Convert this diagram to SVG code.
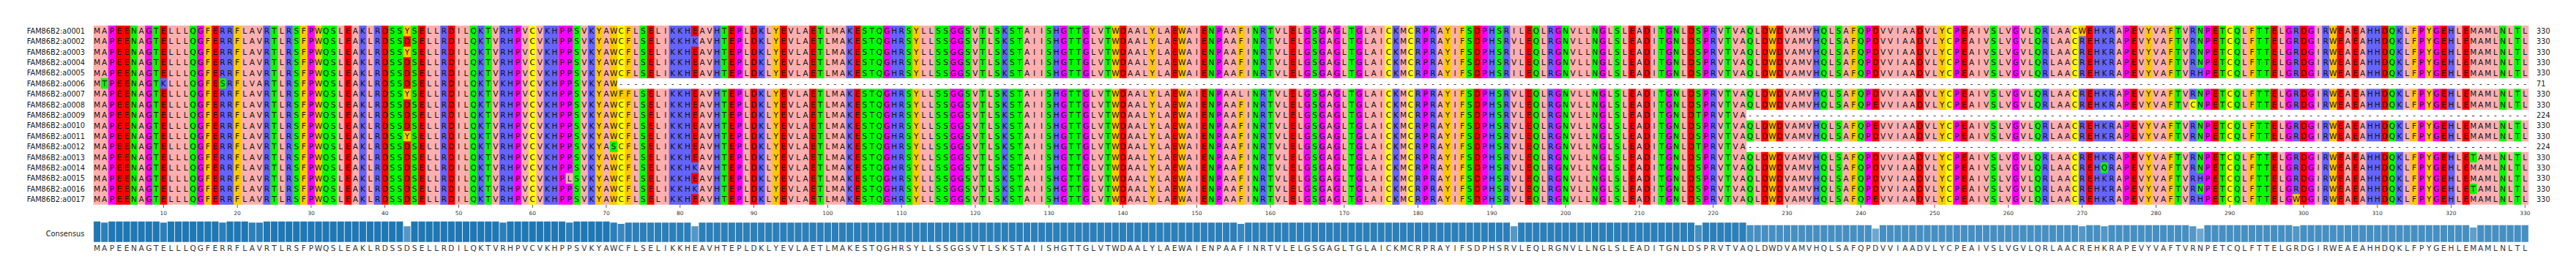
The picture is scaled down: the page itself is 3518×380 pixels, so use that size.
<svg xmlns="http://www.w3.org/2000/svg" width="3518" height="380" viewBox="0 0 3518 380">
<style>
.f{font-family:"DejaVu Sans","Liberation Sans",sans-serif}
.res{font-size:10.5px;text-anchor:middle}
.lab{font-size:9.75px;fill:#1a1a1a}
.end{text-anchor:end}
.tk{font-size:7.5px;fill:#333;text-anchor:middle}
.gap{font-size:10.5px;text-anchor:middle;fill:#222}
.col path{fill:none;stroke-width:1}
.H{stroke:#ffafaf}.A{stroke:#ffc800}.P{stroke:#6464ff}.N{stroke:#ff0000}.S{stroke:#00ff00}.G{stroke:#ff00ff}.C{stroke:#ffff00}
.bar path{fill:#1f77b4}
</style>
<defs>
<text id="seq" class="f res" x="132.6 142.7 152.8 162.9 173 183 193.1 203.2 213.3 223.3 233.4 243.5 253.6 263.7 273.7 283.8 293.9 304 314 324.1 334.2 344.3 354.4 364.4 374.5 384.6 394.7 404.8 414.8 424.9 435 445.1 455.1 465.2 475.3 485.4 495.5 505.5 515.6 525.7 535.8 545.8 555.9 566 576.1 586.2 596.2 606.3 616.4 626.5 636.5 646.6 656.7 666.8 676.9 686.9 697 707.1 717.2 727.2 737.3 747.4 757.5 767.6 777.6 787.7 797.8 807.9 817.9 828 838.1 848.2 858.3 868.3 878.4 888.5 898.6 908.7 918.7 928.8 938.9 949 959 969.1 979.2 989.3 999.4 1009.4 1019.5 1029.6 1039.7 1049.7 1059.8 1069.9 1080 1090.1 1100.1 1110.2 1120.3 1130.4 1140.4 1150.5 1160.6 1170.7 1180.8 1190.8 1200.9 1211 1221.1 1231.1 1241.2 1251.3 1261.4 1271.5 1281.5 1291.6 1301.7 1311.8 1321.8 1331.9 1342 1352.1 1362.2 1372.2 1382.3 1392.4 1402.5 1412.6 1422.6 1432.7 1442.8 1452.9 1462.9 1473 1483.1 1493.2 1503.3 1513.3 1523.4 1533.5 1543.6 1553.6 1563.7 1573.8 1583.9 1594 1604 1614.1 1624.2 1634.3 1644.3 1654.4 1664.5 1674.6 1684.7 1694.7 1704.8 1714.9 1725 1735 1745.1 1755.2 1765.3 1775.4 1785.4 1795.5 1805.6 1815.7 1825.7 1835.8 1845.9 1856 1866.1 1876.1 1886.2 1896.3 1906.4 1916.5 1926.5 1936.6 1946.7 1956.8 1966.8 1976.9 1987 1997.1 2007.2 2017.2 2027.3 2037.4 2047.5 2057.5 2067.6 2077.7 2087.8 2097.9 2107.9 2118 2128.1 2138.2 2148.2 2158.3 2168.4 2178.5 2188.6 2198.6 2208.7 2218.8 2228.9 2238.9 2249 2259.1 2269.2 2279.3 2289.3 2299.4 2309.5 2319.6 2329.6 2339.7 2349.8 2359.9 2370 2380 2390.1 2400.2 2410.3 2420.4 2430.4 2440.5 2450.6 2460.7 2470.7 2480.8 2490.9 2501 2511.1 2521.1 2531.2 2541.3 2551.4 2561.4 2571.5 2581.6 2591.7 2601.8 2611.8 2621.9 2632 2642.1 2652.1 2662.2 2672.3 2682.4 2692.5 2702.5 2712.6 2722.7 2732.8 2742.8 2752.9 2763 2773.1 2783.2 2793.2 2803.3 2813.4 2823.5 2833.5 2843.6 2853.7 2863.8 2873.9 2883.9 2894 2904.1 2914.2 2924.3 2934.3 2944.4 2954.5 2964.6 2974.6 2984.7 2994.8 3004.9 3015 3025 3035.1 3045.2 3055.3 3065.3 3075.4 3085.5 3095.6 3105.7 3115.7 3125.8 3135.9 3146 3156 3166.1 3176.2 3186.3 3196.4 3206.4 3216.5 3226.6 3236.7 3246.7 3256.8 3266.9 3277 3287.1 3297.1 3307.2 3317.3 3327.4 3337.4 3347.5 3357.6 3367.7 3377.8 3387.8 3397.9 3408 3418.1 3428.2 3438.2 3448.3">MAPEENAGTELLLQGFERRFLAVRTLRSFPWQSLEAKLRDSSDSELLRDILQKTVRHPVCVKHPPSVKYAWCFLSELIKKHEAVHTEPLDKLYEVLAETLMAKESTQGHRSYLLSSGGSVTLSKSTAIISHGTTGLVTWDAALYLAEWAIENPAAFINRTVLELGSGAGLTGLAICKMCRPRAYIFSDPHSRVLEQLRGNVLLNGLSLEADITGNLDSPRVTVAQLDWDVAMVHQLSAFQPDVVIAADVLYCPEAIVSLVGVLQRLAACREHKRAPEVYVAFTVRNPETCQLFTTELGRDGIRWEAEAHHDQKLFPYGEHLEMAMLNLTL</text>
<text id="d10" class="f gap" x="0 10.08 20.16 30.23 40.31 50.39 60.47 70.55 80.62 90.7">----------</text>
<g id="g106">
<use href="#d10" x="2390.1"/><use href="#d10" x="2490.9"/><use href="#d10" x="2591.7"/><use href="#d10" x="2692.5"/><use href="#d10" x="2793.2"/><use href="#d10" x="2894"/><use href="#d10" x="2994.8"/><use href="#d10" x="3095.6"/><use href="#d10" x="3196.4"/><use href="#d10" x="3297.1"/><use href="#d10" x="3357.6"/>
</g>
</defs>
<rect width="3518" height="380" fill="#fff"/>

<g id="alignment">
<g id="column-colours" class="col" transform="matrix(10.078 0 0 244.7 122.561 35)">
<rect x="0.5" y="0" width="330" height="1" fill="#ffafaf"/>
<path class="G" d="M3 0v1M8 0v1M15 0v1M30 0v1M58 0v1M64 0v1M65 0v1M88 0v1M108 0v1M117 0v1M118 0v1M132 0v1M135 0v1M153 0v1M165 0v1M167 0v1M169 0v1M172 0v1M181 0v1M189 0v1M199 0v1M205 0v1M214 0v1M219 0v1M241 0v1M253 0v1M261 0v1M276 0v1M287 0v1M298 0v1M301 0v1M316 0v1M318 0v1"/>
<path class="N" d="M4 0v1M5 0v1M10 0v1M17 0v1M35 0v1M40 0v1M43 0v1M45 0v1M49 0v1M76 0v1M82 0v1M87 0v1M90 0v1M94 0v1M98 0v1M104 0v1M140 0v1M147 0v1M151 0v1M163 0v1M188 0v1M195 0v1M209 0v1M211 0v1M217 0v1M227 0v1M229 0v1M242 0v1M248 0v1M254 0v1M271 0v1M277 0v1M288 0v1M296 0v1M300 0v1M305 0v1M307 0v1M311 0v1M319 0v1M322 0v1"/>
<path class="S" d="M6 0v1M9 0v1M14 0v1M25 0v1M28 0v1M32 0v1M33 0v1M41 0v1M42 0v1M44 0v1M52 0v1M54 0v1M66 0v1M75 0v1M86 0v1M99 0v1M105 0v1M106 0v1M107 0v1M111 0v1M115 0v1M116 0v1M119 0v1M121 0v1M123 0v1M125 0v1M126 0v1M130 0v1M133 0v1M134 0v1M138 0v1M152 0v1M158 0v1M160 0v1M166 0v1M171 0v1M187 0v1M191 0v1M196 0v1M200 0v1M204 0v1M207 0v1M213 0v1M215 0v1M218 0v1M222 0v1M225 0v1M235 0v1M237 0v1M240 0v1M258 0v1M264 0v1M283 0v1M286 0v1M289 0v1M291 0v1M294 0v1M295 0v1M312 0v1M327 0v1M329 0v1"/>
<path class="P" d="M18 0v1M19 0v1M24 0v1M27 0v1M37 0v1M39 0v1M48 0v1M53 0v1M56 0v1M57 0v1M62 0v1M63 0v1M68 0v1M79 0v1M80 0v1M81 0v1M85 0v1M91 0v1M103 0v1M109 0v1M110 0v1M124 0v1M131 0v1M159 0v1M177 0v1M180 0v1M182 0v1M190 0v1M192 0v1M198 0v1M220 0v1M234 0v1M265 0v1M270 0v1M272 0v1M273 0v1M274 0v1M285 0v1M299 0v1M303 0v1M309 0v1M310 0v1M313 0v1M320 0v1"/>
<path class="A" d="M16 0v1M20 0v1M29 0v1M31 0v1M69 0v1M71 0v1M73 0v1M93 0v1M112 0v1M139 0v1M144 0v1M148 0v1M156 0v1M184 0v1M186 0v1M228 0v1M239 0v1M251 0v1M279 0v1M282 0v1M293 0v1M304 0v1M315 0v1M317 0v1"/>
<path class="C" d="M60 0v1M72 0v1M176 0v1M179 0v1M252 0v1M269 0v1M290 0v1"/>
</g>

<g id="residues" fill="#111">
<use href="#seq" y="46"/>
<use href="#seq" y="60.39"/>
<use href="#seq" y="74.79"/>
<use href="#seq" y="89.18"/>
<use href="#seq" y="103.58"/>
<use href="#seq" y="117.97"/>
<use href="#seq" y="132.36"/>
<use href="#seq" y="146.76"/>
<use href="#seq" y="161.15"/>
<use href="#seq" y="175.55"/>
<use href="#seq" y="189.94"/>
<use href="#seq" y="204.33"/>
<use href="#seq" y="218.73"/>
<use href="#seq" y="233.12"/>
<use href="#seq" y="247.52"/>
<use href="#seq" y="261.91"/>
<use href="#seq" y="276.3"/>
</g>

<g id="variant-cells" class="col" transform="matrix(10.078 0 0 14.394 122.561 35)">
<path class="H" d="M193 0v1M193 2v1M193 4v1M22 5v1M23 5v1M156 6v1M65 14v1"/>
<path class="A" d="M43 0v1M43 2v1M43 6v1M43 10v1M270 0v1M72 6v1M299 16v1"/>
<path class="P" d="M82 1v1M82 13v1M82 15v1M10 5v1M56 5v1M286 4v1M286 14v1M286 16v1"/>
<path class="N" d="M242 7v1M242 9v1M242 16v1"/>
<path class="S" d="M2 5v1M18 5v1M71 11v1M218 8v1M218 11v1M323 12v1M323 15v1M273 13v1"/>
<path class="C" d="M285 7v1"/>
<rect x="71.5" y="5" width="259" height="1" fill="#fff"/>
<rect x="224.5" y="8" width="106" height="1" fill="#fff"/>
<rect x="224.5" y="11" width="106" height="1" fill="#fff"/>
</g>

<g id="variant-residues" class="f res" fill="#111">
<text x="555.9" y="46">Y</text><text x="2067.6" y="46">I</text><text x="2843.6" y="46">W</text>
<text x="949" y="60.39">K</text>
<text x="555.9" y="74.79">Y</text><text x="2067.6" y="74.79">I</text>
<text x="2067.6" y="103.58">I</text><text x="3004.9" y="103.58">H</text>
<text x="142.7" y="117.97">T</text><text x="223.3" y="117.97">K</text><text x="304" y="117.97">S</text><text x="344.3" y="117.97">V</text><text x="354.4" y="117.97">A</text><text x="686.9" y="117.97">K</text>
<text x="555.9" y="132.36">Y</text><text x="848.2" y="132.36">F</text><text x="1694.7" y="132.36">L</text>
<text x="2561.4" y="146.76">E</text><text x="2994.8" y="146.76">C</text>
<text x="2319.6" y="161.15">T</text>
<text x="2561.4" y="175.55">E</text>
<text x="555.9" y="189.94">Y</text>
<text x="838.1" y="204.33">S</text><text x="2319.6" y="204.33">T</text>
<text x="3377.8" y="218.73">T</text>
<text x="949" y="233.12">K</text><text x="2873.9" y="233.12">Q</text>
<text x="777.6" y="247.52">L</text><text x="3004.9" y="247.52">H</text>
<text x="949" y="261.91">K</text><text x="3377.8" y="261.91">T</text>
<text x="2561.4" y="276.3">E</text><text x="3004.9" y="276.3">H</text><text x="3135.9" y="276.3">W</text>
</g>

<g id="gaps">
<g transform="translate(0 117.97)">
<use href="#d10" x="848.2"/><use href="#d10" x="949"/><use href="#d10" x="1049.7"/><use href="#d10" x="1150.5"/><use href="#d10" x="1251.3"/><use href="#d10" x="1352.1"/><use href="#d10" x="1452.9"/><use href="#d10" x="1553.6"/><use href="#d10" x="1654.4"/><use href="#d10" x="1755.2"/><use href="#d10" x="1856"/><use href="#d10" x="1956.8"/><use href="#d10" x="2057.5"/><use href="#d10" x="2158.3"/><use href="#d10" x="2259.1"/><use href="#d10" x="2359.9"/><use href="#d10" x="2460.7"/><use href="#d10" x="2561.4"/><use href="#d10" x="2662.2"/><use href="#d10" x="2763"/><use href="#d10" x="2863.8"/><use href="#d10" x="2964.6"/><use href="#d10" x="3065.3"/><use href="#d10" x="3166.1"/><use href="#d10" x="3266.9"/><use href="#d10" x="3357.6"/>
</g>
<use href="#g106" y="161.15"/>
<use href="#g106" y="204.33"/>
</g>
</g>

<g id="row-labels" class="f lab end">
<text x="116" y="45.8">FAM86B2:a0001</text>
<text x="116" y="60.2">FAM86B2:a0002</text>
<text x="116" y="74.6">FAM86B2:a0003</text>
<text x="116" y="89">FAM86B2:a0004</text>
<text x="116" y="103.4">FAM86B2:a0005</text>
<text x="116" y="117.8">FAM86B2:a0006</text>
<text x="116" y="132.2">FAM86B2:a0007</text>
<text x="116" y="146.6">FAM86B2:a0008</text>
<text x="116" y="161">FAM86B2:a0009</text>
<text x="116" y="175.4">FAM86B2:a0010</text>
<text x="116" y="189.8">FAM86B2:a0011</text>
<text x="116" y="204.2">FAM86B2:a0012</text>
<text x="116" y="218.6">FAM86B2:a0013</text>
<text x="116" y="233">FAM86B2:a0014</text>
<text x="116" y="247.4">FAM86B2:a0015</text>
<text x="116" y="261.8">FAM86B2:a0016</text>
<text x="116" y="276.2">FAM86B2:a0017</text>
<text x="115.3" y="322.9">Consensus</text>
</g>

<g id="lengths" class="f lab">
<text x="3464" y="45.8">330</text>
<text x="3464" y="60.2">330</text>
<text x="3464" y="74.6">330</text>
<text x="3464" y="89">330</text>
<text x="3464" y="103.4">330</text>
<text x="3464" y="117.8">71</text>
<text x="3464" y="132.2">330</text>
<text x="3464" y="146.6">330</text>
<text x="3464" y="161">224</text>
<text x="3464" y="175.4">330</text>
<text x="3464" y="189.8">330</text>
<text x="3464" y="204.2">224</text>
<text x="3464" y="218.6">330</text>
<text x="3464" y="233">330</text>
<text x="3464" y="247.4">330</text>
<text x="3464" y="261.8">330</text>
<text x="3464" y="276.2">330</text>
</g>

<g id="axis">
<line x1="222.94" y1="282" x2="3449" y2="282" stroke="#333" stroke-width="4" stroke-dasharray="0.8 99.98"/>
<g class="f tk">
<text x="223.3" y="294.4">10</text><text x="324.1" y="294.4">20</text><text x="424.9" y="294.4">30</text><text x="525.7" y="294.4">40</text><text x="626.5" y="294.4">50</text><text x="727.2" y="294.4">60</text><text x="828" y="294.4">70</text><text x="928.8" y="294.4">80</text><text x="1029.6" y="294.4">90</text><text x="1130.4" y="294.4">100</text><text x="1231.1" y="294.4">110</text><text x="1331.9" y="294.4">120</text><text x="1432.7" y="294.4">130</text><text x="1533.5" y="294.4">140</text><text x="1634.3" y="294.4">150</text><text x="1735" y="294.4">160</text><text x="1835.8" y="294.4">170</text><text x="1936.6" y="294.4">180</text><text x="2037.4" y="294.4">190</text><text x="2138.2" y="294.4">200</text><text x="2238.9" y="294.4">210</text><text x="2339.7" y="294.4">220</text><text x="2440.5" y="294.4">230</text><text x="2541.3" y="294.4">240</text><text x="2642.1" y="294.4">250</text><text x="2742.8" y="294.4">260</text><text x="2843.6" y="294.4">270</text><text x="2944.4" y="294.4">280</text><text x="3045.2" y="294.4">290</text><text x="3146" y="294.4">300</text><text x="3246.7" y="294.4">310</text><text x="3347.5" y="294.4">320</text><text x="3448.3" y="294.4">330</text>
</g>
</g>

<g id="consensus-bars" class="bar">
<path transform="matrix(10.078 0 0 -28 122.561 330.7)" d="M.5 0h1v1h-1zM2.5 0h7v1h-7zM10.5 0h7v1h-7zM18.5 0h3v1h-3zM23.5 0h19v1h-19zM43.5 0h12v1h-12zM56.5 0h8v1h-8zM65.5 0h5v1h-5z"/>
<path transform="matrix(10.078 0 0 -26.353 122.561 330.7)" fill-opacity=".941" d="M1.5 0h1v1h-1zM9.5 0h1v1h-1zM17.5 0h1v1h-1zM21.5 0h2v1h-2zM55.5 0h1v1h-1zM64.5 0h1v1h-1zM70.5 0h1v1h-1zM72.5 0h9v1h-9zM82.5 0h73v1h-73zM156.5 0h36v1h-36zM193.5 0h24v1h-24zM218.5 0h6v1h-6z"/>
<path transform="matrix(10.078 0 0 -24.706 122.561 330.7)" fill-opacity=".882" d="M71.5 0h1v1h-1zM155.5 0h1v1h-1z"/>
<path transform="matrix(10.078 0 0 -23.059 122.561 330.7)" fill-opacity=".824" d="M217.5 0h1v1h-1zM224.5 0h17v1h-17zM242.5 0h27v1h-27zM270.5 0h2v1h-2zM273.5 0h11v1h-11zM286.5 0h12v1h-12zM299.5 0h23v1h-23zM323.5 0h7v1h-7z"/>
<path transform="matrix(10.078 0 0 -21.412 122.561 330.7)" fill-opacity=".765" d="M42.5 0h1v1h-1zM81.5 0h1v1h-1zM192.5 0h1v1h-1zM269.5 0h1v1h-1zM272.5 0h1v1h-1zM284.5 0h1v1h-1zM298.5 0h1v1h-1z"/>
<path transform="matrix(10.078 0 0 -19.765 122.561 330.7)" fill-opacity=".706" d="M322.5 0h1v1h-1z"/>
<path transform="matrix(10.078 0 0 -18.118 122.561 330.7)" fill-opacity=".647" d="M241.5 0h1v1h-1zM285.5 0h1v1h-1z"/>
<line x1="127.1" y1="316.7" x2="3454.1" y2="316.7" stroke="#fff" stroke-opacity=".85" stroke-width="29" stroke-dasharray="1 9.078"/>
</g>

<use id="consensus-seq" href="#seq" y="343.1" fill="#333"/>
</svg>
